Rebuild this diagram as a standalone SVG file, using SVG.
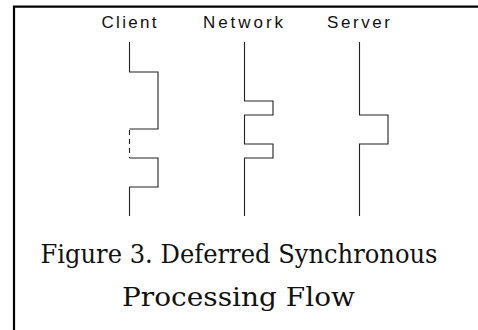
<svg xmlns="http://www.w3.org/2000/svg" width="478" height="330" viewBox="0 0 478 330">
<style>
.lbl{font-family:"Liberation Sans",Arial,sans-serif;font-size:17px;fill:#111;text-anchor:middle}
.life{fill:none;stroke:#222;stroke-width:1.1}
.dash{fill:none;stroke:#222;stroke-width:1.1;stroke-dasharray:5,4}
.cap{font-family:"DejaVu Serif",serif;font-size:26px;fill:#111;text-anchor:middle}
.frame{fill:none;stroke:#000;stroke-width:2.2}
</style>
<rect width="478" height="330" fill="#fff"/>
<path class="frame" d="M14 330 V6.6 H478"/>
<g id="client">
<text class="lbl" x="129" y="28" textLength="55" lengthAdjust="spacing">Client</text>
<path class="life" d="M129.5 42 V72 H158 V129 H129.5"/>
<path class="dash" d="M129.5 130 V158"/>
<path class="life" d="M129.5 158 H158 V187 H129.5 V216"/>
</g>
<g id="network">
<text class="lbl" x="243" y="28" textLength="80" lengthAdjust="spacing">Network</text>
<path class="life" d="M244.5 42 V101 H273 V115 H244.5 V144 H273 V158 H244.5 V216"/>
</g>
<g id="server">
<text class="lbl" x="358.5" y="28" textLength="63" lengthAdjust="spacing">Server</text>
<path class="life" d="M359.5 42 V115 H388 V144 H359.5 V216"/>
</g>
<g id="connectors"></g>
<g id="caption">
<text class="cap" x="239" y="263" textLength="397" lengthAdjust="spacingAndGlyphs">Figure 3. Deferred Synchronous</text>
<text class="cap" x="238.5" y="306" textLength="233" lengthAdjust="spacingAndGlyphs">Processing Flow</text>
</g>
</svg>
